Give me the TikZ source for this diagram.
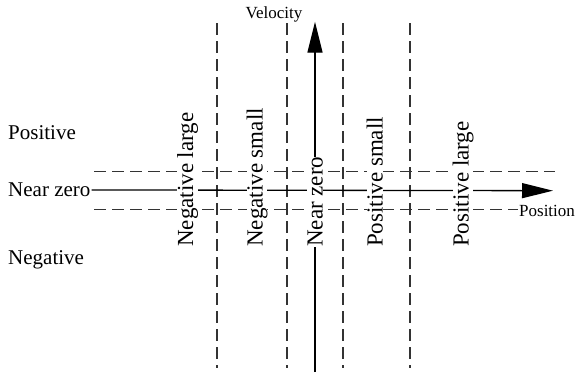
\documentclass[tikz,border=0pt]{standalone}
\usepackage{fontspec}
\setmainfont{Liberation Serif}
\newfontfamily\tmsfont{Liberation Serif}
\usetikzlibrary{arrows.meta}
\begin{document}
\begin{tikzpicture}[x=1pt,y=-1pt,
  guide/.style={draw=black!80,line width=1.1pt,dash pattern=on 12pt off 6pt},
  axis/.style={draw=black,line width=1.3pt,-{Triangle[length=31pt,width=15pt]}},
  sidelbl/.style={font=\tmsfont\fontsize{21}{25}\selectfont,inner sep=1pt,anchor=base west},
  zonelbl/.style={font=\tmsfont\fontsize{23}{27}\selectfont,rotate=90,anchor=base west,fill=white,inner sep=0pt},
  axlbl/.style={font=\tmsfont\fontsize{17}{20}\selectfont,inner sep=0pt,anchor=base west}]
\useasboundingbox (0,0) rectangle (575,372);
% side labels
\node[sidelbl] (pos) at (7,139) {Positive};
\node[sidelbl] (nzl) at (7,196.7) {Near zero};
\node[sidelbl] (neg) at (7,264.3) {Negative};
% guide coordinates
\coordinate (h1a) at (94,171.7); \coordinate (h1b) at (555,171.7);
\coordinate (h2a) at (94,209.3); \coordinate (h2b) at (518,209.3);
\coordinate (v1a) at (217,23); \coordinate (v1b) at (217,368);
\coordinate (v2a) at (287,23); \coordinate (v2b) at (287,368);
\coordinate (v3a) at (343,23); \coordinate (v3b) at (343,368);
\coordinate (v4a) at (410,23); \coordinate (v4b) at (410,368);
\draw[guide] (h1a) -- (h1b);
\draw[guide] (h2a) -- (h2b);
\draw[guide] (v1a) -- (v1b);
\draw[guide] (v2a) -- (v2b);
\draw[guide] (v3a) -- (v3b);
\draw[guide] (v4a) -- (v4b);
% axes
\coordinate (xtip) at (553,190.7);
\coordinate (vbot) at (315,372);
\coordinate (vtip) at (315,21.7);
\draw[axis] (nzl.east) -- (xtip);
\draw[axis] (vbot) -- (vtip);
% axis labels
\node[axlbl] (vel) at (245.5,18.5) {Velocity};
\node[axlbl] (posn) at (519,216) {Position};
% zone labels
\node[zonelbl] (nl) at (193,247) {Negative large};
\node[zonelbl] (ns) at (262.5,247) {Negative small};
\node[zonelbl] (nz) at (322.5,247) {Near zero};
\node[zonelbl] (ps) at (382.5,247) {Positive small};
\node[zonelbl] (pl) at (468.5,247) {Positive large};
\end{tikzpicture}
\end{document}
